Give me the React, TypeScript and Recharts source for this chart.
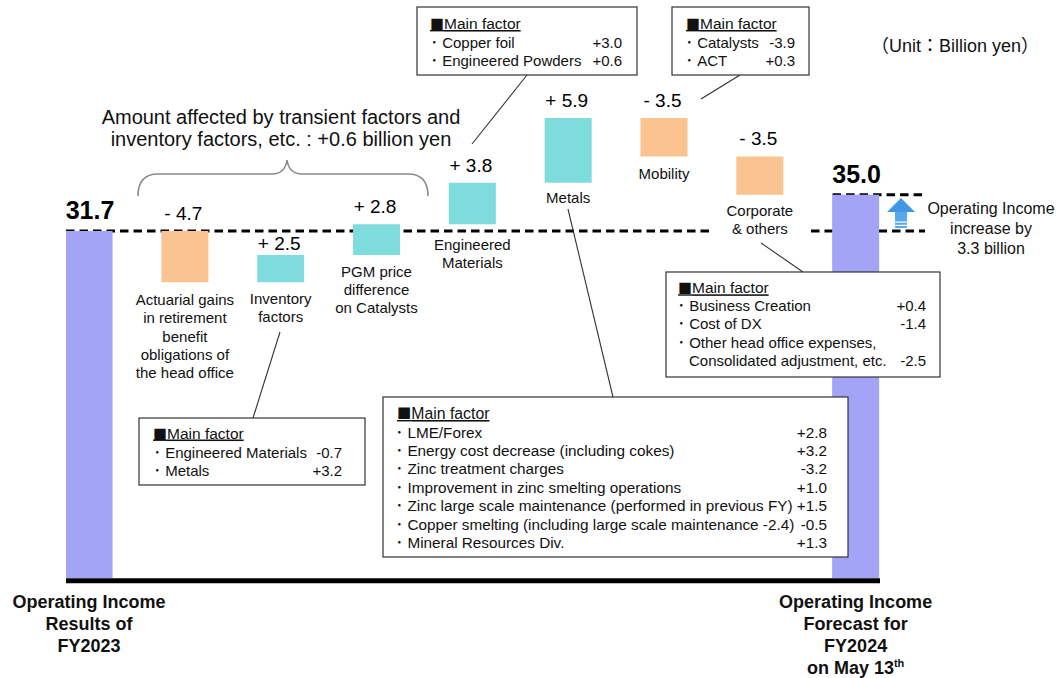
import React from 'react';
import { BarChart, Bar, XAxis, YAxis, Cell, ReferenceLine } from 'recharts';

// ---------- data ----------
const categoryLines: string[][] = [
  ['Operating Income', 'Results of', 'FY2023'],
  ['Actuarial gains', 'in retirement', 'benefit', 'obligations of', 'the head office'],
  ['Inventory', 'factors'],
  ['PGM price', 'difference', 'on Catalysts'],
  ['Engineered', 'Materials'],
  ['Metals'],
  ['Mobility'],
  ['Corporate', '& others'],
  ['Operating Income', 'Forecast for', 'FY2024', 'on May 13th'],
];
const changes = [31.7, -4.7, 2.5, 2.8, 3.8, 5.9, -3.5, -3.5, 35.0];
const totalFlags = [true, false, false, false, false, false, false, false, true];

const copperFactors = [
  { label: 'Copper foil', value: '+3.0', bullet: true },
  { label: 'Engineered Powders', value: '+0.6', bullet: true },
];
const mobilityFactors = [
  { label: 'Catalysts', value: '-3.9', bullet: true },
  { label: 'ACT', value: '+0.3', bullet: true },
];
const inventoryFactors = [
  { label: 'Engineered Materials', value: '-0.7', bullet: true },
  { label: 'Metals', value: '+3.2', bullet: true },
];
const metalsFactors = [
  { label: 'LME/Forex', value: '+2.8', bullet: true },
  { label: 'Energy cost decrease (including cokes)', value: '+3.2', bullet: true },
  { label: 'Zinc treatment charges', value: '-3.2', bullet: true },
  { label: 'Improvement in zinc smelting operations', value: '+1.0', bullet: true },
  { label: 'Zinc large scale maintenance (performed in previous FY)', value: '+1.5', bullet: true },
  { label: 'Copper smelting (including large scale maintenance -2.4)', value: '-0.5', bullet: true },
  { label: 'Mineral Resources Div.', value: '+1.3', bullet: true },
];
const corporateFactors = [
  { label: 'Business Creation', value: '+0.4', bullet: true },
  { label: 'Cost of DX', value: '-1.4', bullet: true },
  { label: 'Other head office expenses,', value: '', bullet: true },
  { label: 'Consolidated adjustment, etc.', value: '-2.5', bullet: false },
];
const transientNote = ['Amount affected by transient factors and', 'inventory factors, etc. : +0.6 billion yen'];
const increaseNote = ['Operating Income', 'increase by', '3.3 billion'];
const unitNote = '（Unit：Billion yen）';

// ---------- derived waterfall table ----------
type Row = { idx: number; change: number; total: boolean; range: [number, number] };
const data: Row[] = (() => {
  let running = 0;
  return changes.map((v, i) => {
    if (totalFlags[i]) {
      running = v;
      return { idx: i, change: v, total: true, range: [0, v] as [number, number] };
    }
    const a = running;
    const b = running + v;
    running = b;
    return { idx: i, change: v, total: false, range: [Math.min(a, b), Math.max(a, b)] as [number, number] };
  });
})();

const COLOR_TOTAL = '#A4A4F6';
const COLOR_UP = '#7FDCDC';
const COLOR_DOWN = '#FAC38F';
const FONT = '"Liberation Sans", Arial, "Noto Sans CJK JP", sans-serif';
const CJK = '"Noto Sans CJK JP", "Liberation Sans", sans-serif';

const catOffsets = [23.5, 17.6, 16.6, 16.7, 20.7, 14.6, 17.6, 16, 23.5];

function BarLabel(props: any) {
  const { x, y, width, height, index } = props;
  const d = data[index];
  if (!d) return null;
  const top = Math.min(y, y + height);
  const bottom = Math.max(y, y + height);
  const cx = x + width / 2;
  const total = d.total;
  const valueText = total
    ? d.change.toFixed(1)
    : (d.change > 0 ? '+ ' : '- ') + Math.abs(d.change).toFixed(1);
  const gap = total ? 12 : index === 2 ? 4.5 : 11;
  const lh = total ? 22.2 : 18.2;
  const fs = total ? 18 : 15;
  const firstCenter = bottom + catOffsets[index];
  return (
    <g>
      <text
        x={cx + (total ? 1 : -1.5)}
        y={top - gap}
        textAnchor="middle"
        fontSize={total ? 25 : 19}
        fontWeight={total ? 700 : 400}
        fontFamily={FONT}
        fill="#000"
      >
        {valueText}
      </text>
      {categoryLines[index].map((ln, k) => {
        const base = firstCenter + k * lh + fs * 0.35;
        const m = ln.match(/^(.*\d)(th)$/);
        return (
          <text
            key={k}
            x={cx}
            y={base}
            textAnchor="middle"
            fontSize={fs}
            fontWeight={total ? 700 : 400}
            fontFamily={FONT}
            fill="#111"
          >
            {m ? (
              <>
                {m[1]}
                <tspan fontSize={11} dy={-7}>
                  {m[2]}
                </tspan>
              </>
            ) : (
              ln
            )}
          </text>
        );
      })}
    </g>
  );
}

type Factor = { label: string; value: string; bullet: boolean };
function FactorBox(p: {
  x: number; y: number; w: number; h: number;
  titleX: number; titleY: number; rows: Factor[];
  textX: number; valueX: number; rowY: number; step: number; fs?: number;
}) {
  const fs = p.fs ?? 15;
  return (
    <g fontFamily={FONT} fill="#111">
      <rect x={p.x} y={p.y} width={p.w} height={p.h} fill="#fff" stroke="#333" strokeWidth={1.2} />
      <text x={p.titleX} y={p.titleY} fontSize={fs + 0.5} textDecoration="underline">
        <tspan fontFamily={CJK} fontSize={fs - 1}>■</tspan>
        <tspan>Main factor</tspan>
      </text>
      {p.rows.map((r, i) => {
        const by = p.rowY + i * p.step;
        return (
          <g key={i}>
            <text x={r.bullet ? p.textX - 11.5 : p.textX} y={by} fontSize={fs}>
              {r.bullet ? `･ ${r.label}` : r.label}
            </text>
            {r.value && (
              <text x={p.valueX} y={by} fontSize={fs} textAnchor="end">
                {r.value}
              </text>
            )}
          </g>
        );
      })}
    </g>
  );
}

function Overlay() {
  return (
    <svg
      width={1061}
      height={678}
      style={{ position: 'absolute', left: 0, top: 0, pointerEvents: 'none' }}
    >
      {/* unit */}
      <text x={955} y={52} textAnchor="middle" fontSize={18} fontFamily={FONT} fill="#111">
        {unitNote}
      </text>
      {/* transient note */}
      {transientNote.map((t, i) => (
        <text key={i} x={281} y={123.5 + i * 22} textAnchor="middle" fontSize={20} fontFamily={FONT} fill="#111">
          {t}
        </text>
      ))}
      {/* brace */}
      <path
        d="M138,196 Q138,174 158,174 L272,174 Q285,174 287,160 Q289,174 302,174 L408,174 Q428,174 428,196"
        fill="none"
        stroke="#8a8a8a"
        strokeWidth={1.6}
      />
      {/* leader lines */}
      <line x1={527} y1={75} x2={472} y2={144} stroke="#333" strokeWidth={1.1} />
      <line x1={740} y1={75} x2={701} y2={99} stroke="#333" strokeWidth={1.1} />
      <line x1={280} y1={332} x2={253} y2={418} stroke="#333" strokeWidth={1.1} />
      <line x1={568} y1={209} x2={613} y2={397} stroke="#333" strokeWidth={1.1} />
      <line x1={761} y1={243} x2={803} y2={272} stroke="#333" strokeWidth={1.1} />

      <FactorBox x={417} y={7} w={220} h={68} titleX={430} titleY={29} rows={copperFactors}
        textX={442} valueX={622} rowY={47.5} step={18.5} />
      <FactorBox x={672} y={7} w={137} h={68} titleX={686} titleY={29} rows={mobilityFactors}
        textX={697} valueX={795} rowY={47.5} step={18.5} />
      <FactorBox x={139} y={418} w={226} h={67} titleX={153} titleY={438.5} rows={inventoryFactors}
        textX={165} valueX={342} rowY={457.5} step={18.5} />
      <FactorBox x={383} y={397} w={465} h={160} titleX={397} titleY={419} rows={metalsFactors}
        textX={407} valueX={827} rowY={437.5} step={18.4} fs={15.3} />
      <FactorBox x={666} y={272} w={274} h={105} titleX={678} titleY={293.3} rows={corporateFactors}
        textX={689} valueX={926} rowY={311} step={18.4} />

      {/* arrow */}
      <polygon points="887,212 901,198 915,212" fill="#3f97e6" />
      <rect x={895} y={212} width={12} height={16} fill="#58a8ee" />
      <rect x={895} y={221.5} width={12} height={1.2} fill="#fff" />
      <rect x={895} y={224.8} width={12} height={1.2} fill="#fff" />
      {increaseNote.map((t, i) => (
        <text key={i} x={991} y={214 + i * 20} textAnchor="middle" fontSize={16} fontFamily={FONT} fill="#111">
          {t}
        </text>
      ))}
    </svg>
  );
}

export default function App() {
  return (
    <div style={{ position: 'absolute', left: 0, top: 0, width: 1061, height: 678, background: '#fff', overflow: 'hidden' }}>
      <BarChart
        width={1061}
        height={678}
        data={data}
        margin={{ top: 30.5, right: 181, bottom: 94.525, left: 66 }}
      >
        <XAxis type="number" dataKey="idx" domain={[-0.245, 8.25]} hide allowDataOverflow />
        <YAxis type="number" domain={[-0.5, 50]} hide allowDataOverflow />
        <ReferenceLine
          segment={[{ x: -0.245, y: 31.7 }, { x: 6.497, y: 31.7 }]}
          stroke="#000" strokeWidth={3} strokeDasharray="8.5 5" ifOverflow="visible" zIndex={0}
        />
        <ReferenceLine
          segment={[{ x: 7.53, y: 31.7 }, { x: 8.72, y: 31.7 }]}
          stroke="#000" strokeWidth={3} strokeDasharray="8.5 5" ifOverflow="visible" zIndex={0}
        />
        <ReferenceLine
          segment={[{ x: 7.755, y: 35.0 }, { x: 8.72, y: 35.0 }]}
          stroke="#000" strokeWidth={3} strokeDasharray="8.5 5" ifOverflow="visible" zIndex={0}
        />
        <ReferenceLine y={-0.25} stroke="#000" strokeWidth={5} ifOverflow="visible" />
        <Bar dataKey="range" barSize={47} isAnimationActive={false} label={BarLabel}>
          {data.map((d, i) => (
            <Cell key={i} fill={d.total ? COLOR_TOTAL : d.change > 0 ? COLOR_UP : COLOR_DOWN} />
          ))}
        </Bar>
      </BarChart>
      <Overlay />
    </div>
  );
}
